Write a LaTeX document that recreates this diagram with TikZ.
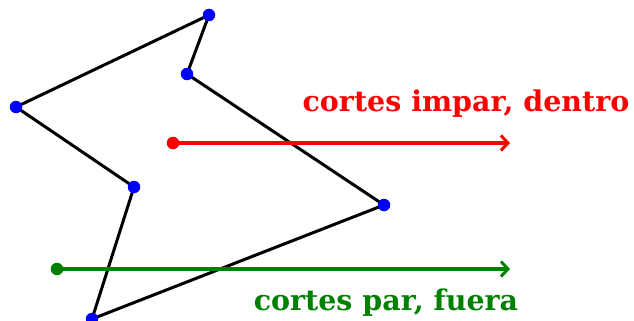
\documentclass[tikz,border=0pt]{standalone}
\usepackage{fontspec}
\setmainfont{DejaVu Serif}
\usetikzlibrary{arrows.meta,positioning}

\begin{document}
\begin{tikzpicture}[
    x=1pt, y=-1pt,
    vertex/.style={circle, fill=blue, inner sep=0pt, minimum size=12.5pt},
    edge/.style={line width=3pt, black},
    ray/.style={line width=3.2pt, draw=#1, -{Straight Barb[length=7pt,width=15pt,line width=3pt]}},
    startdot/.style={circle, fill=#1, inner sep=0pt, minimum size=12.5pt},
    lbl/.style={font=\bfseries\fontsize{28.5}{30}\selectfont, text=#1, inner sep=0pt}
  ]
  \useasboundingbox (0,0) rectangle (634,321);

  % Polygon vertices
  \coordinate (A) at (209,15);
  \coordinate (B) at (187,74);
  \coordinate (C) at (384,205);
  \coordinate (D) at (92,319);
  \coordinate (E) at (134,187);
  \coordinate (F) at (16,107);

  % Edges
  \draw[edge] (A) -- (B) -- (C) -- (D) -- (E) -- (F) -- cycle;
  \foreach \v in {A,B,C,D,E,F} {
    \node[vertex] (dot\v) at (\v) {};
  }

  % Ray from inside point
  \node[startdot=red] (pin) at (173,143) {};
  \coordinate (pinend) at (510,143);
  \draw[ray=red] (pin.center) -- (pinend);
  \node[lbl=red] (lblin) at (466,104) {cortes impar, dentro};

  % Ray from outside point
  \node[startdot=green!50!black] (pout) at (57,269) {};
  \coordinate (poutend) at (510,269);
  \draw[ray=green!50!black] (pout.center) -- (poutend);
  \node[lbl=green!50!black] (lblout) at (386,303) {cortes par, fuera};
\end{tikzpicture}
\end{document}
